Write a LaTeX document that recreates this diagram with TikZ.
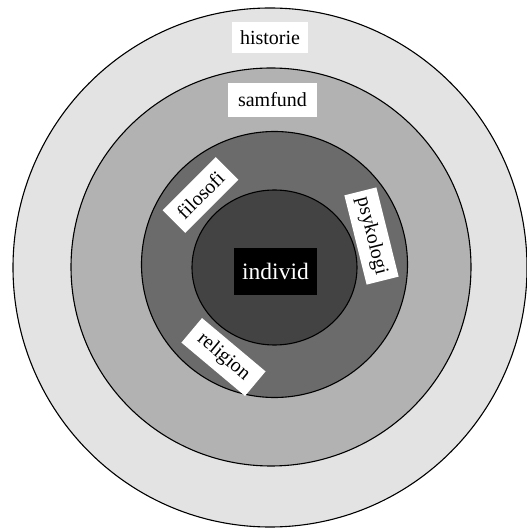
\documentclass[tikz,border=0pt]{standalone}
\usepackage{fontspec}
\setmainfont{Liberation Serif}
\usepackage{xcolor}
\definecolor{ringA}{HTML}{E3E3E3}
\definecolor{ringB}{HTML}{B2B2B2}
\definecolor{ringC}{HTML}{6B6B6B}
\definecolor{ringD}{HTML}{434343}
\tikzset{
  ring/.style={draw=black, line width=1.1pt},
  lbl/.style={fill=white, inner sep=0pt, font=\fontsize{20}{22}\selectfont, transform shape=false},
}
\begin{document}
\begin{tikzpicture}[x=1pt, y=1pt]
  \useasboundingbox (0,0) rectangle (527,528);
  \fill[white] (0,0) rectangle (527,528);
  % rings, outside in
  \draw[ring, fill=ringA] (270,260.5) ellipse [x radius=257, y radius=259.5];
  \draw[ring, fill=ringB] (271,261) ellipse [x radius=200, y radius=199];
  \draw[ring, fill=ringC] (274.5,263.5) circle [radius=133];
  \draw[ring, fill=ringD] (274.5,260.5) ellipse [x radius=82.5, y radius=77.5];
  % labels
  \node[lbl, minimum width=76, minimum height=31] (historie) at (270,490.5) {historie};
  \node[lbl, minimum width=89, minimum height=34] (samfund) at (272.5,428) {samfund};
  \node[lbl, fill=black, text=white, font=\fontsize{23.5}{26}\selectfont, minimum width=83, minimum height=47] (individ) at (275.5,256.5) {individ};
  \node[lbl, rotate=45, minimum width=75, minimum height=32] (filosofi) at (200.5,333) {filosofi};
  \node[lbl, rotate=-76, minimum width=92, minimum height=33] (psykologi) at (371.5,292) {psykologi};
  \node[lbl, rotate=-40, minimum width=83, minimum height=32] (religion) at (223.5,171) {religion};
\end{tikzpicture}
\end{document}
